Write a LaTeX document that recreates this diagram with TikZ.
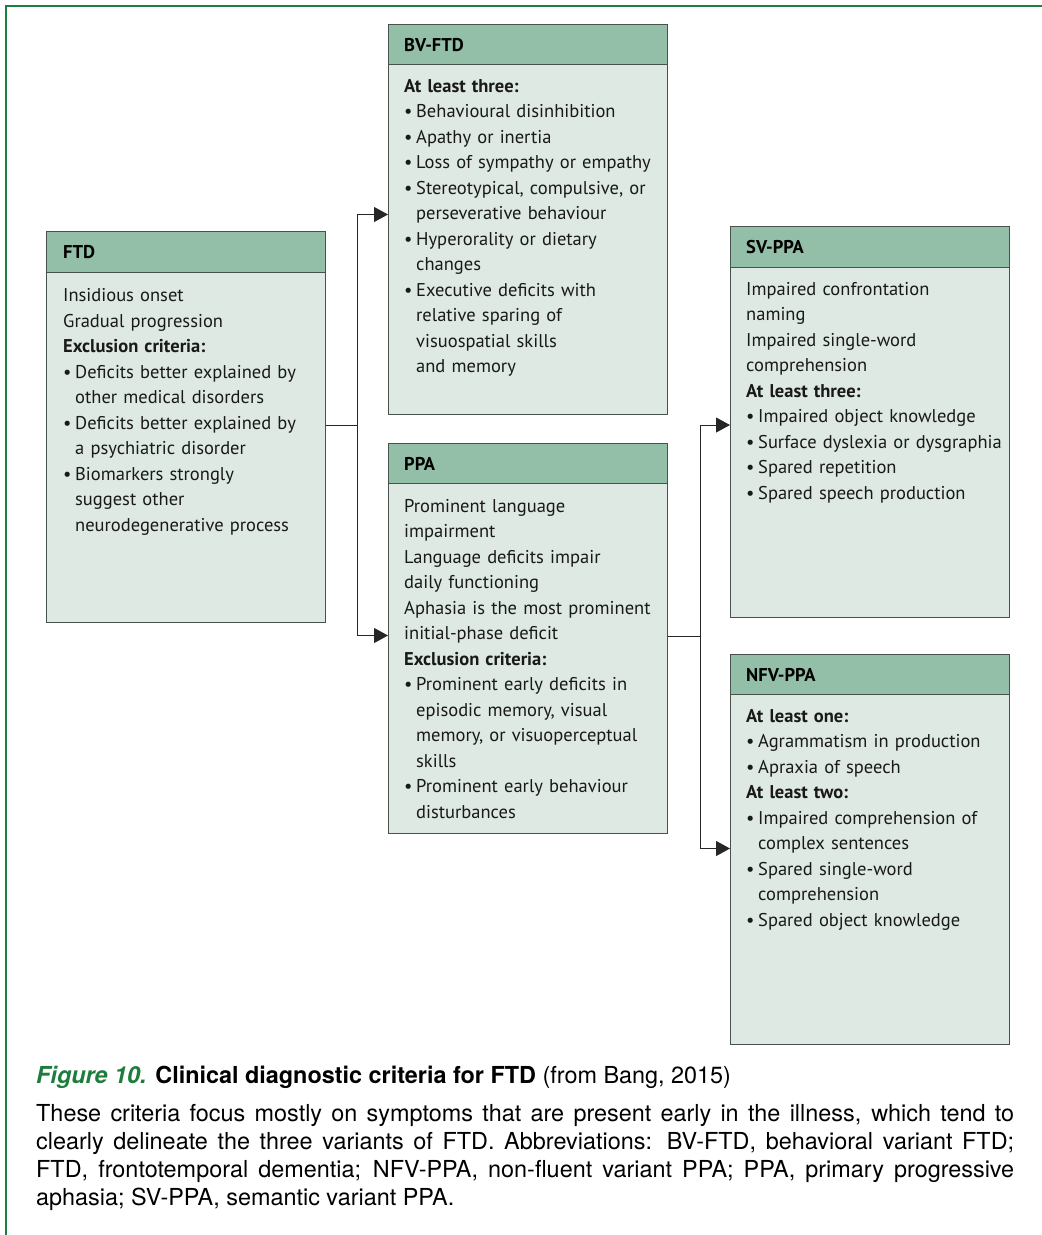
\documentclass[tikz,border=0pt]{standalone}
\usepackage{fontspec}
\setmainfont{PT Sans}
\newfontfamily\capfont{TeX Gyre Heros}
\usetikzlibrary{arrows.meta}

\definecolor{headgreen}{RGB}{147,191,169}
\definecolor{bodygreen}{RGB}{221,233,226}
\definecolor{boxline}{RGB}{72,82,77}
\definecolor{framegreen}{RGB}{26,128,64}
\definecolor{figgreen}{RGB}{30,125,60}

\newcommand{\critfont}{\fontsize{18.5}{25.5}\selectfont}
\newcommand{\capsize}{\fontsize{23.4}{28}\selectfont}
\newcommand{\itm}{\makebox[12pt][l]{\textbullet}}
\newcommand{\nxt}{\hspace*{12pt}}

\tikzset{
  head/.style={draw=boxline, fill=headgreen, minimum width=279pt, minimum height=40.5pt, anchor=north west, inner sep=0pt, line width=1pt},
  body/.style={draw=boxline, fill=bodygreen, minimum width=279pt, minimum height=350pt, anchor=north west, inner sep=0pt, line width=1pt},
  headlbl/.style={anchor=west, inner sep=0pt, font=\critfont\bfseries},
  crit/.style={anchor=north west, inner sep=0pt, text width=262pt, align=left, font=\critfont, text=black!90},
  conn/.style={draw=black!85, line width=1pt},
  arr/.style={conn, -{Triangle[length=14pt,width=15pt]}},
}

\begin{document}
\begin{tikzpicture}[x=1pt,y=-1pt]
	\useasboundingbox (0,0) rectangle (1042,1235);
	% outer frame
	\draw[framegreen, line width=2.5pt] (6,1235) -- (6,6) -- (1042,6);

	% FTD
	\node[head] (ftdhead) at (46,231) {};
	\node[body] (ftdbody) at (46,271.5) {};
	\node[headlbl] (ftdlbl) at ([xshift=17pt]ftdhead.west) {FTD};
	\node[crit] (ftdtext) at ([xshift=17pt,yshift=-17pt]ftdbody.north west) {%
		Insidious onset\\
		Gradual progression\\
		\textbf{Exclusion criteria:}\\
		\itm Deficits better explained by\\
		\nxt other medical disorders\\
		\itm Deficits better explained by\\
		\nxt a psychiatric disorder\\
		\itm Biomarkers strongly\\
		\nxt suggest other\\
		\nxt neurodegenerative process};

	% BV-FTD
	\node[head] (bvhead) at (388,24) {};
	\node[body] (bvbody) at (388,64) {};
	\node[headlbl] (bvlbl) at ([xshift=16pt]bvhead.west) {BV-FTD};
	\node[crit] (bvtext) at ([xshift=16pt,yshift=-15pt]bvbody.north west) {%
		\textbf{At least three:}\\
		\itm Behavioural disinhibition\\
		\itm Apathy or inertia\\
		\itm Loss of sympathy or empathy\\
		\itm Stereotypical, compulsive, or\\
		\nxt perseverative behaviour\\
		\itm Hyperorality or dietary\\
		\nxt changes\\
		\itm Executive deficits with\\
		\nxt relative sparing of\\
		\nxt visuospatial skills\\
		\nxt and memory};

	% PPA
	\node[head] (ppahead) at (388,443) {};
	\node[body] (ppabody) at (388,483) {};
	\node[headlbl] (ppalbl) at ([xshift=16pt]ppahead.west) {PPA};
	\node[crit] (ppatext) at ([xshift=16pt,yshift=-16pt]ppabody.north west) {%
		Prominent language\\
		impairment\\
		Language deficits impair\\
		daily functioning\\
		Aphasia is the most prominent\\
		initial-phase deficit\\
		\textbf{Exclusion criteria:}\\
		\itm Prominent early deficits in\\
		\nxt episodic memory, visual\\
		\nxt memory, or visuoperceptual\\
		\nxt skills\\
		\itm Prominent early behaviour\\
		\nxt disturbances};

	% SV-PPA
	\node[head] (svhead) at (730,226) {};
	\node[body] (svbody) at (730,266.5) {};
	\node[headlbl] (svlbl) at ([xshift=16pt]svhead.west) {SV-PPA};
	\node[crit] (svtext) at ([xshift=16pt,yshift=-15.5pt]svbody.north west) {%
		Impaired confrontation\\
		naming\\
		Impaired single-word\\
		comprehension\\
		\textbf{At least three:}\\
		\itm Impaired object knowledge\\
		\itm Surface dyslexia or dysgraphia\\
		\itm Spared repetition\\
		\itm Spared speech production};

	% NFV-PPA
	\node[head] (nfvhead) at (730,654) {};
	\node[body] (nfvbody) at (730,694) {};
	\node[headlbl] (nfvlbl) at ([xshift=16pt]nfvhead.west) {NFV-PPA};
	\node[crit] (nfvtext) at ([xshift=16pt,yshift=-15pt]nfvbody.north west) {%
		\textbf{At least one:}\\
		\itm Agrammatism in production\\
		\itm Apraxia of speech\\
		\textbf{At least two:}\\
		\itm Impaired comprehension of\\
		\nxt complex sentences\\
		\itm Spared single-word\\
		\nxt comprehension\\
		\itm Spared object knowledge};

	% connectors
	\draw[conn] ([yshift=22pt]ftdbody.east) -- ++(31pt,0) coordinate (fork1);
	\draw[arr] (fork1) |- ([yshift=25pt]bvbody.west);
	\draw[arr] (fork1) |- ([yshift=23pt]ppabody.west);
	\draw[conn] ([yshift=22pt]ppabody.east) -- ++(32pt,0) coordinate (fork2);
	\draw[arr] (fork2) |- ([yshift=17pt]svbody.west);
	\draw[arr] (fork2) |- ([yshift=21pt]nfvbody.west);

	% caption
	\node[anchor=west, inner sep=0pt, font=\capfont\capsize] (captitle) at (36,1077)
		{\textcolor{figgreen}{\bfseries\itshape Figure 10.} \textbf{Clinical diagnostic criteria for FTD} (from Bang, 2015)};
	\node[anchor=north west, inner sep=0pt, text width=978pt, align=justify, font=\capfont\capsize] (capbody) at (36,1104)
		{These criteria focus mostly on symptoms that are present early in the illness, which tend to\linebreak
		clearly delineate the three variants of FTD. Abbreviations: BV-FTD, behavioral variant FTD;\linebreak
		FTD, frontotemporal dementia; NFV-PPA, non-fluent variant PPA; PPA, primary progressive\linebreak
		aphasia; SV-PPA, semantic variant PPA.};
\end{tikzpicture}
\end{document}
